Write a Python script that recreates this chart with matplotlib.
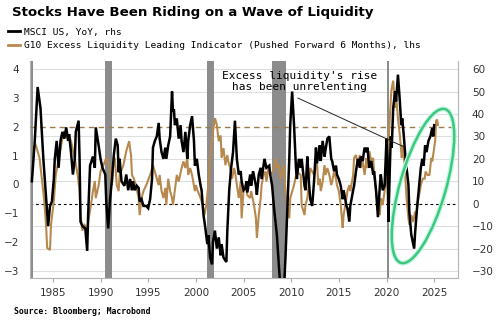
import matplotlib
matplotlib.use("Agg")
import matplotlib.pyplot as plt
from matplotlib.patches import Ellipse

# MSCI US, YoY % (right axis)
msci_t = [1982.8, 1983.1, 1983.4, 1983.7, 1984.0, 1984.3, 1984.5, 1984.7, 1984.9, 1985.1,
          1985.2, 1985.4, 1985.6, 1985.8, 1986.0, 1986.2, 1986.4, 1986.6, 1986.7, 1986.9,
          1987.1, 1987.3, 1987.4, 1987.7, 1987.8, 1987.9, 1988.1, 1988.4, 1988.6, 1988.7,
          1988.9, 1989.2, 1989.4, 1989.5, 1989.8, 1990.0, 1990.2, 1990.5, 1990.6, 1990.8,
          1991.0, 1991.2, 1991.4, 1991.6, 1991.8, 1991.9, 1992.0, 1992.2, 1992.5, 1992.7,
          1992.9, 1993.1, 1993.3, 1993.4, 1993.6, 1993.8, 1994.0, 1994.1, 1994.3, 1994.5,
          1994.8, 1995.0, 1995.2, 1995.4, 1995.5, 1995.7, 1995.9, 1996.1, 1996.2, 1996.4,
          1996.6, 1996.8, 1996.9, 1997.1, 1997.3, 1997.5, 1997.6, 1997.7, 1997.8, 1998.0,
          1998.2, 1998.4, 1998.5, 1998.7, 1998.9, 1999.1, 1999.2, 1999.4, 1999.6, 1999.8,
          1999.9, 2000.1, 2000.3, 2000.5, 2000.6, 2000.8, 2001.0, 2001.2, 2001.3, 2001.5,
          2001.7, 2001.8, 2002.0, 2002.2, 2002.4, 2002.6, 2002.7, 2002.9, 2003.2, 2003.3,
          2003.5, 2003.7, 2003.9, 2004.1, 2004.3, 2004.5, 2004.7, 2004.8, 2005.0, 2005.2,
          2005.3, 2005.4, 2005.7, 2005.8, 2006.0, 2006.3, 2006.4, 2006.6, 2006.8, 2006.9,
          2007.2, 2007.4, 2007.7, 2007.8, 2008.0, 2008.2, 2008.4, 2008.5, 2008.7, 2008.9,
          2009.2, 2009.4, 2009.6, 2009.8, 2009.9, 2010.1, 2010.3, 2010.5, 2010.6, 2010.8,
          2011.0, 2011.1, 2011.4, 2011.5, 2011.7, 2011.8, 2012.0, 2012.2, 2012.4, 2012.6,
          2012.7, 2012.9, 2013.0, 2013.1, 2013.3, 2013.5, 2013.6, 2013.8, 2014.0, 2014.2,
          2014.3, 2014.5, 2014.7, 2014.8, 2015.0, 2015.2, 2015.4, 2015.5, 2015.8, 2015.9,
          2016.1, 2016.2, 2016.5, 2016.6, 2016.8, 2017.0, 2017.2, 2017.3, 2017.5, 2017.7,
          2017.9, 2018.0, 2018.2, 2018.4, 2018.6, 2018.7, 2018.9, 2019.1, 2019.3, 2019.4,
          2019.6, 2019.8, 2020.0, 2020.1, 2020.2, 2020.35, 2020.45, 2020.55, 2020.7, 2020.9,
          2021.0, 2021.2, 2021.4, 2021.55, 2021.65, 2021.8, 2022.0, 2022.1, 2022.3, 2022.4,
          2022.6, 2022.8, 2022.9, 2023.0, 2023.2, 2023.5, 2023.6, 2023.75, 2023.9, 2024.05,
          2024.2, 2024.4, 2024.6, 2024.8, 2024.9, 2025.0]
msci_v = [10, 28, 52, 42.6, 20, 2, -10, -1, 1, 11,
          20, 28, 16, 28, 32, 29, 34, 28, 31, 23,
          13, 20, 32, 37, 20, -8, -10, -11, -21, -5,
          17, 21, 16, 34, 26, 20, 16, 13, 1, -11,
          2, 11, 22, 29, 26, 14, 20, 10, 8, 13,
          6, 11, 6, 10, 6, 8, 7, 1, 2, -1,
          -1, -2, 2, 11, 25, 28, 30, 36, 29, 23,
          20, 25, 20, 26, 30, 50, 41, 42, 35, 38,
          29, 35, 28, 23, 32, 20, 28, 35, 39, 28,
          17, 20, 13, 8, 6, -5, -11, -18, -14, -24,
          -27, -17, -12, -20, -15, -23, -18, -24, -26, -12,
          6, 16, 23, 37, 20, 13, 14.5, 10, 6, 7,
          10, 5, 13, 8, 14.5, 8, 4, 13, 16, 11,
          20, 16, 17, 13, 8, -2, -10, -14, -27, -40,
          -42, -24, -2, 20, 35, 50, 35, 16, 11, 20,
          16, 20, 8, 6, 21, 13, 2, -1, 10, 25,
          18, 23, 26, 19, 28, 21, 24, 29, 30, 20,
          19, 14.5, 17, 13, 11, 8, 2, 6, -1, -2,
          -8, -1, 6, 8, 14.5, 20, 16, 21, 19, 25,
          23, 25, 16, 19, 13, 14.5, 6, -6, 8, 13,
          6, 8, 29, 20, -8, 16, 30, 25, 42.6, 50,
          45.6, 57.5, 45.6, 35, 38, 31, 20, 16, 8.4, -4,
          -13.8, -18, -20, -13, -2, 11.4, 16, 20, 17, 26,
          23, 28, 30, 33.7, 30, 35]

# G10 excess liquidity leading indicator (left axis)
liq_t = [1982.9, 1983.2, 1983.6, 1983.8, 1984.1, 1984.3, 1984.4, 1984.7, 1984.8, 1985.1,
         1985.3, 1985.7, 1986.0, 1986.2, 1986.5, 1986.7, 1986.9, 1987.3, 1987.6, 1987.8,
         1987.9, 1988.1, 1988.3, 1988.6, 1988.9, 1989.0, 1989.2, 1989.4, 1989.5, 1989.8,
         1990.0, 1990.3, 1990.6, 1990.9, 1991.2, 1991.3, 1991.5, 1991.7, 1991.9, 1992.0,
         1992.4, 1992.7, 1993.0, 1993.2, 1993.3, 1993.5, 1993.7, 1994.0, 1994.1, 1994.3,
         1994.5, 1994.8, 1995.2, 1995.5, 1995.8, 1996.1, 1996.2, 1996.4, 1996.6, 1996.8,
         1996.9, 1997.1, 1997.3, 1997.5, 1997.6, 1997.8, 1998.0, 1998.2, 1998.5, 1998.7,
         1998.9, 1999.1, 1999.2, 1999.4, 1999.6, 1999.9, 2000.0, 2000.2, 2000.5, 2000.7,
         2000.9, 2001.1, 2001.3, 2001.5, 2001.7, 2001.8, 2002.0, 2002.2, 2002.4, 2002.6,
         2002.7, 2002.9, 2003.1, 2003.3, 2003.4, 2003.6, 2003.8, 2004.0, 2004.1, 2004.3,
         2004.5, 2004.7, 2004.8, 2005.0, 2005.2, 2005.4, 2005.7, 2005.8, 2006.1, 2006.3,
         2006.4, 2006.6, 2006.8, 2006.9, 2007.1, 2007.3, 2007.4, 2007.6, 2007.8, 2008.1,
         2008.4, 2008.5, 2008.7, 2008.9, 2009.0, 2009.2, 2009.4, 2009.6, 2009.8, 2009.9,
         2010.3, 2010.6, 2011.0, 2011.1, 2011.4, 2011.5, 2011.7, 2012.0, 2012.4, 2012.7,
         2012.85, 2013.0, 2013.1, 2013.3, 2013.5, 2013.6, 2013.8, 2014.0, 2014.2, 2014.3,
         2014.5, 2014.7, 2014.8, 2015.0, 2015.2, 2015.4, 2015.5, 2015.8, 2015.9, 2016.1,
         2016.2, 2016.5, 2016.6, 2016.8, 2017.0, 2017.2, 2017.3, 2017.5, 2017.7, 2017.9,
         2018.0, 2018.2, 2018.4, 2018.6, 2018.7, 2018.9, 2019.1, 2019.3, 2019.4, 2019.6,
         2019.8, 2020.0, 2020.1, 2020.3, 2020.5, 2020.7, 2020.9, 2021.0, 2021.2, 2021.4,
         2021.6, 2021.7, 2021.9, 2022.1, 2022.3, 2022.4, 2022.6, 2022.8, 2023.0, 2023.1,
         2023.3, 2023.5, 2023.6, 2023.8, 2024.0, 2024.1, 2024.3, 2024.5, 2024.7, 2024.8,
         2025.1, 2025.2, 2025.3, 2025.4]
liq_v = [1.26, 1.37, 0.92, 0.33, -0.57, -1.5, -2.2, -2.27, -1.4, -0.57,
         0.33, 1.02, 1.6, 1.85, 1.6, 1.7, 1.5, 0.9, 0.33, -0.23,
         -1.06, -1.6, -1.4, -1.5, -0.9, -0.7, -0.23, 0.12, -0.47, -0.03,
         0.45, 0.67, 0.92, 0.67, -0.02, 0.57, 0.92, -0.02, -0.23, 0.33,
         0.67, 1.16, 1.5, 1.0, 0.33, 0.2, -0.02, -0.47, -1.06, -0.47,
         -0.23, -0.02, 0.33, 0.67, 0.33, -0.02, 0.33, -0.23, -0.47, -0.12,
         -0.71, 0.2, -0.23, -0.47, -0.71, -0.2, 0.33, 0.1, 0.57, 0.8,
         0.57, 0.92, 0.33, 0.57, 0.33, -0.23, -0.02, -0.23, -0.47, -0.71,
         -1.06, -0.71, -0.02, 0.92, 1.5, 1.85, 2.3, 2.06, 1.5, 1.7,
         0.92, 1.26, 0.67, 1.02, 0.8, 0.57, 0.2, 0.57, 0.45, -0.02,
         -0.47, 0.1, -1.17, -0.23, -0.02, -0.37, -0.47, -0.23, -0.71, -1.17,
         -1.85, -1.06, -0.47, -0.02, 0.33, 0.45, 0.1, 0.57, 0.33, 0.45,
         0.92, 0.57, 0.67, 0.2, 0.33, 0.67, -0.23, -0.82, -1.17, -0.47,
         -0.02, 0.45, 0.33, -0.71, -1.06, -0.71, -0.47, 0.57, 0.33, 0.8,
         -0.02, 0.2, -0.23, 0.1, 0.67, 0.33, 0.57, 0.33, -0.02, 0.1,
         0.45, 0.2, -0.02, -0.23, -0.71, -1.5, -1.06, -0.47, -0.23, -0.02,
         -0.23, 0.33, 0.92, 1.02, 0.67, 1.02, 0.57, 0.8, 0.33, 0.92,
         0.57, 1.16, 0.8, 0.92, 0.33, -0.23, -0.71, -1.06, -0.47, -0.71,
         -0.23, 0.2, 0.8, 2.06, 3.24, 3.6, 2.65, 3.1, 2.3, 1.7,
         0.92, 1.37, 0.67, -0.47, -1.17, -1.4, -1.06, -1.3, -0.94, -1.17,
         -0.57, -0.23, -0.02, 0.2, 0.2, 0.45, 0.33, 0.33, 0.92, 0.8,
         1.5, 2.2, 2.25, 2.06]

# US recessions (shaded)
rec_start = [1981.5, 1990.5, 2001.2, 2007.95, 2020.1]
rec_end = [1982.9, 1991.2, 2001.9, 2009.45, 2020.3]

years = [1985, 1990, 1995, 2000, 2005, 2010, 2015, 2020, 2025]
left_ticks = [4, 3, 2, 1, 0, -1, -2, -3]
right_ticks = [60, 50, 40, 30, 20, 10, 0, -10, -20, -30]

black = "#000000"
tan = "#B8894F"
gray = "#8C8C8C"
tick_col = "#333333"
mono = "DejaVu Sans Mono"

fig = plt.figure(figsize=(5, 3.32), dpi=100)

# base axis: right scale, grid, recession bars
ax = fig.add_axes([0.06, 0.1627, 0.856, 0.6536])
ax.set_xlim(1982.6, 2027.5)
ax.set_ylim(-33.1, 63.6)
ax.set_xticks(years)
ax.tick_params(axis="x", length=3, color="#aaaaaa", labelsize=7.5, labelcolor=tick_col, pad=4)
for y in right_ticks:
    if y != 0:
        ax.axhline(y, color="#dedede", lw=0.8, zorder=0)
ax.axhline(0, color=black, lw=0.8, ls=(0, (2.5, 2.5)), zorder=1)
for s, e in zip(rec_start, rec_end):
    ax.axvspan(s, e, color=gray, lw=0, zorder=1)
ax.spines["top"].set_visible(False)
for sp in ["left", "right", "bottom"]:
    ax.spines[sp].set_color("#b5b5b5")
    ax.spines[sp].set_linewidth(0.8)

# left scale: liquidity indicator
axl = ax.twinx()
axl.set_ylim(-3.24, 4.28)
axl.axhline(2, color="#9c7a4c", lw=1.0, ls=(0, (4, 3)), zorder=1)
axl.plot(liq_t, liq_v, color=tan, lw=1.5, solid_joinstyle="miter")
for sp in axl.spines.values():
    sp.set_visible(False)

# black line on top, same scale as base axis
axb = ax.twinx()
axb.set_ylim(ax.get_ylim())
axb.set_yticks([])
for sp in axb.spines.values():
    sp.set_visible(False)
axb.plot(msci_t, msci_v, color=black, lw=1.8, solid_joinstyle="miter")

# tick sides (twinx resets them, so set after)
ax.set_yticks(right_ticks)
ax.yaxis.tick_right()
ax.tick_params(axis="y", length=0, labelsize=7.5, labelcolor=tick_col, pad=10)
axl.set_yticks(left_ticks)
axl.yaxis.tick_left()
axl.tick_params(axis="y", length=0, labelsize=7.5, labelcolor=tick_col, pad=8)

axb.text(2010.9, 54.6, "Excess liquidity's rise\nhas been unrelenting", family=mono,
         fontsize=8, ha="center", va="center", linespacing=1.15)
axb.annotate("", xy=(2021.9, 25.2), xytext=(2010.7, 47.1),
             arrowprops=dict(arrowstyle="-", color="#222222", lw=0.7, shrinkA=0, shrinkB=0))

# green ellipse around the latest move
for lw, col in [(3.6, "#c8f5ea"), (1.8, "#3cc97a")]:
    fig.add_artist(Ellipse((4.23, 1.46), 0.46, 1.60, angle=-16, fill=False,
                           lw=lw, edgecolor=col, transform=fig.dpi_scale_trans))

fig.text(0.024, 0.963, "Stocks Have Been Riding on a Wave of Liquidity",
         fontsize=9.6, fontweight="bold", va="center", ha="left")

h1, = ax.plot([], [], color=black, lw=2)
h2, = ax.plot([], [], color=tan, lw=2)
fig.legend([h1, h2], ["MSCI US, YoY, rhs",
                      "G10 Excess Liquidity Leading Indicator (Pushed Forward 6 Months), lhs"],
           loc="upper left", bbox_to_anchor=(0.012, 0.922), frameon=False,
           prop={"family": mono, "size": 6.8}, handlelength=1.3, handletextpad=0.4,
           labelspacing=0.45, borderpad=0.2, borderaxespad=0)

fig.text(0.028, 0.063, "Source: Bloomberg; Macrobond", family=mono, fontweight="bold",
         fontsize=5.9, va="center", ha="left")

fig.savefig("out.png", dpi=100)
